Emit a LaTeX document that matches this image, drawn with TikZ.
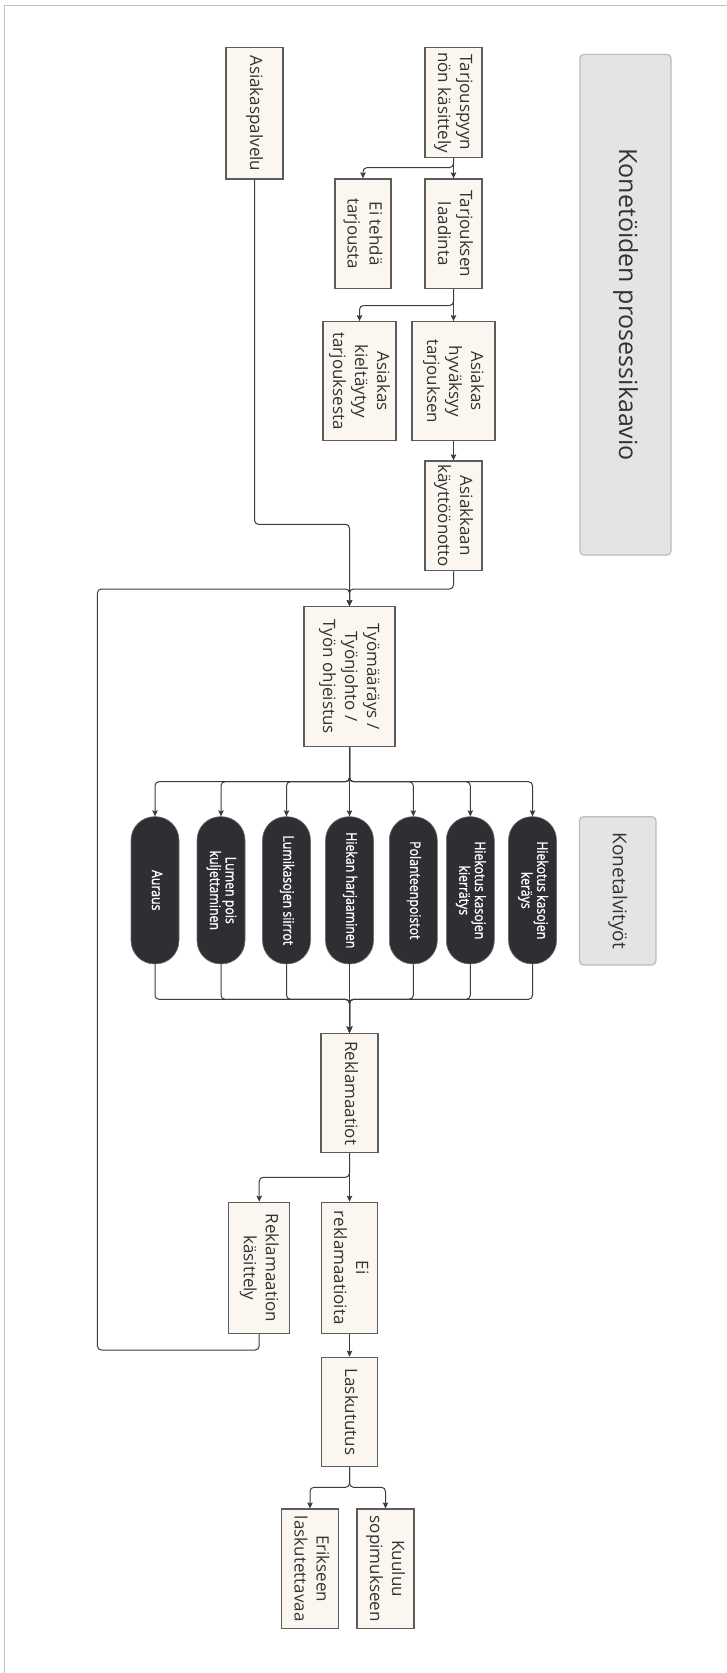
\documentclass[tikz,border=0pt]{standalone}
\usepackage{fontspec}
\setmainfont{Open Sans}
\newfontfamily\pillfont[FakeStretch=0.85,FakeBold=1.2]{Open Sans}
\usepackage{graphicx}
\usetikzlibrary{arrows.meta}
\definecolor{boxfill}{HTML}{FBF7F0}
\definecolor{boxline}{HTML}{5C5C5C}
\definecolor{txt}{HTML}{333333}
\definecolor{pillfill}{HTML}{2E2F33}
\definecolor{linec}{HTML}{3C3C3C}
\definecolor{framec}{HTML}{C0C0C0}
\definecolor{titlefill}{HTML}{E4E4E4}
\definecolor{titleline}{HTML}{BBBBBB}
\newcommand{\rt}[1]{\rotatebox{-90}{\begin{tabular}{@{}c@{}}#1\end{tabular}}}
\tikzset{
  box/.style={draw=boxline, fill=boxfill, line width=1.2pt, inner sep=0pt, text=txt,
    font=\fontsize{17}{22}\selectfont},
  pill/.style={draw=pillfill!70!white, fill=pillfill, line width=0.6pt, inner sep=0pt, text=white,
    rounded corners=23.5pt, minimum width=48pt, minimum height=147.3pt,
    font=\pillfont\fontsize{14.5}{15.5}\selectfont},
  titlebox/.style={draw=titleline, fill=titlefill, line width=1.2pt, rounded corners=4pt,
    inner sep=0pt, text=txt},
  conn/.style={draw=linec, line width=1pt, rounded corners=4pt,
    -{Stealth[length=6pt,width=5.5pt,inset=1pt]}}
}
\begin{document}
\begin{tikzpicture}[x=1pt,y=-1pt]
\useasboundingbox (0,0) rectangle (727,1673);
\fill[white] (0,0) rectangle (727,1673);
\draw[framec, line width=1.6pt] (4.6,1673) -- (4.6,5.6) -- (727,5.6);

% title boxes
\node[titlebox, minimum width=91pt, minimum height=500.7pt] (title) at (625.5,304.7)
  {\rotatebox{-90}{\fontsize{25}{30}\selectfont Konetöiden prosessikaavio}};
\node[titlebox, minimum width=76.5pt, minimum height=148.3pt] (konet) at (617.7,890.8)
  {\rotatebox{-90}{\fontsize{19}{24}\selectfont Konetalvityöt}};

% process boxes
\node[box, minimum width=57pt, minimum height=109.6pt] (tarj) at (453.5,102.5) {\rt{Tarjouspyyn\\nön käsittely}};
\node[box, minimum width=57pt, minimum height=131.3pt] (asp) at (254.5,113.3) {\rt{Asiakaspalvelu}};
\node[box, minimum width=57pt, minimum height=109.7pt] (laad) at (453.5,233.8) {\rt{Tarjouksen\\laadinta}};
\node[box, minimum width=56pt, minimum height=109.7pt] (eitehda) at (363,233.8) {\rt{Ei tehdä\\tarjousta}};
\node[box, minimum width=83pt, minimum height=119pt] (hyv) at (453.5,381.2) {\rt{Asiakas\\hyväksyy\\tarjouksen}};
\node[box, minimum width=73pt, minimum height=119pt] (kielt) at (359.5,381.2) {\rt{Asiakas\\kieltäytyy\\tarjouksesta}};
\node[box, minimum width=57pt, minimum height=109.7pt] (kayt) at (453.5,515.8) {\rt{Asiakkaan\\käyttöönotto}};
\node[box, minimum width=91pt, minimum height=140pt] (tyom) at (349.5,676.7) {\rt{Työmääräys /\\Työnjohto /\\Työn ohjeistus}};

% pills
\node[pill] (p1) at (155,890.3) {\rt{Auraus}};
\node[pill] (p2) at (221,890.3) {\rt{Lumen pois\\kuljettaminen}};
\node[pill] (p3) at (286.5,890.3) {\rt{Lumikasojen siirrot}};
\node[pill] (p4) at (349.5,890.3) {\rt{Hiekan harjaaminen}};
\node[pill] (p5) at (413.3,890.3) {\rt{Polanteenpoistot}};
\node[pill] (p6) at (470.3,890.3) {\rt{Hiekotus kasojen\\kierrätys}};
\node[pill] (p7) at (532.5,890.3) {\rt{Hiekotus kasojen\\keräys}};

\node[box, minimum width=57pt, minimum height=119.4pt] (rekl) at (349.5,1093) {\rt{Reklamaatiot}};
\node[box, minimum width=61pt, minimum height=131pt] (reklk) at (259.2,1267.8) {\rt{Reklamaation\\käsittely}};
\node[box, minimum width=56.5pt, minimum height=131pt] (eirekl) at (349.5,1267.8) {\rt{Ei\\reklamaatioita}};
\node[box, minimum width=56.5pt, minimum height=109.4pt] (lasku) at (349.5,1412) {\rt{Laskututus}};
\node[box, minimum width=57pt, minimum height=119.3pt] (erik) at (310,1568.7) {\rt{Erikseen\\laskutettavaa}};
\node[box, minimum width=57pt, minimum height=119.3pt] (kuul) at (385.5,1568.7) {\rt{Kuuluu\\sopimukseen}};

% helper coordinates
\coordinate (c1) at (0,524.3);
\coordinate (c2) at (0,589);
\coordinate (lb) at (97.4,1350);
\coordinate (lt) at (97.4,589);
\coordinate (bus1) at (0,781.7);
\coordinate (bus2) at (0,999.3);

% connectors
\draw[conn] (tarj.south) -- ++(0,9.7) -| (eitehda.north);
\draw[conn] (tarj.south) -- (laad.north);
\draw[conn] (laad.south) -- ++(0,16.3) -| (kielt.north);
\draw[conn] (laad.south) -- (hyv.north);
\draw[conn] (hyv.south) -- (kayt.north);
\draw[conn] (asp.south) -- (asp.south |- c1) -| (tyom.north);
\draw[conn] (kayt.south) -- (kayt.south |- c2) -| (tyom.north);
\draw[conn] (reklk.south) |- (lb) -- (lt) -| (tyom.north);

\foreach \p in {p1,p2,p3,p4,p5,p6,p7}{
  \draw[conn] (tyom.south) -- (tyom.south |- bus1) -| (\p.north);
  \draw[conn] (\p.south) -- (\p.south |- bus2) -| (rekl.north);
}

\draw[conn] (rekl.south) -- ++(0,24) -| (reklk.north);
\draw[conn] (rekl.south) -- (eirekl.north);
\draw[conn] (eirekl.south) -- (lasku.north);
\draw[conn] (lasku.south) -- ++(0,20) -| (erik.north);
\draw[conn] (lasku.south) -- ++(0,20) -| (kuul.north);
\end{tikzpicture}
\end{document}
